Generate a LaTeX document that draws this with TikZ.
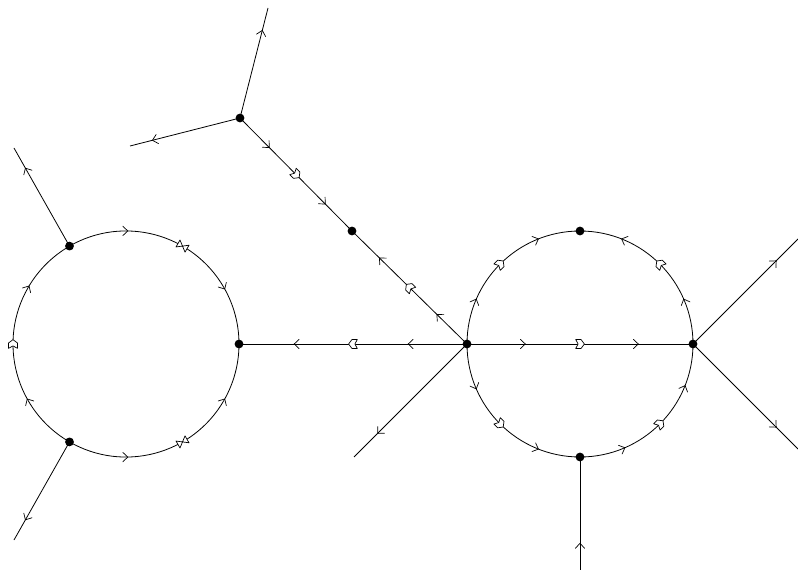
\documentclass[tikz,border=0pt]{standalone}
\usetikzlibrary{decorations.markings}
\tikzset{
  prop/.style={line width=0.8pt},
  barb/.style={line width=0.7pt,line cap=round},
  hol/.style={line width=0.7pt,fill=white,line join=round},
  tri/.style n args={3}{postaction={decorate},decoration={markings,
     mark=at position 0.25 with {#1},mark=at position 0.5 with {#2},mark=at position 0.75 with {#3}}},
  leg/.style={postaction={decorate},decoration={markings,mark=at position 0.78 with {#1}}},
  dot/.style={circle,fill=black,inner sep=0pt,minimum size=8.8pt}
}
\newcommand\barbpath{(-3.2pt,4.7pt) .. controls (-1pt,1.6pt) .. (1.8pt,0pt) .. controls (-1pt,-1.6pt) .. (-3.2pt,-4.7pt)}
\newcommand\holpath{(-4.3pt,4.5pt) -- (-1.9pt,0pt) -- (-4.3pt,-4.5pt) -- (1.0pt,-4.5pt) .. controls (3.4pt,-2.6pt) .. (4.4pt,0pt) .. controls (3.4pt,2.6pt) .. (1.0pt,4.5pt) -- cycle}
\newcommand\mA{\draw[barb] \barbpath;}
\newcommand\mR{\draw[barb,xscale=-1] \barbpath;}
\newcommand\mH{\draw[hol] \holpath;}
\newcommand\mHr{\draw[hol,xscale=-1] \holpath;}
\newcommand\mB{\draw[hol] (0pt,0pt) -- (-5.2pt,4pt) -- (-5.2pt,-4pt) -- cycle (0pt,0pt) -- (5.2pt,4pt) -- (5.2pt,-4pt) -- cycle;}
\begin{document}
\begin{tikzpicture}[x=1pt,y=-1pt]
\useasboundingbox (0,0) rectangle (798,572);
% vertices
\coordinate (A) at (240,118);
\coordinate (B) at (352,231);
\coordinate (C) at (239,344);
\coordinate (L1) at (69.5,246.1);
\coordinate (L2) at (69.5,441.9);
\coordinate (D) at (467,344);
\coordinate (E) at (693,344);
\coordinate (F) at (580,231);
\coordinate (G) at (580,457);
% free ends
\coordinate (e1) at (268,8);
\coordinate (e2) at (130,146);
\coordinate (e3) at (14,148);
\coordinate (e4) at (14,540);
\coordinate (e5) at (354,457);
\coordinate (e6) at (798,239);
\coordinate (e7) at (798,449);
\coordinate (e8) at (580,570);
% external legs
\draw[prop,leg={\mA}] (A) -- (e1);
\draw[prop,leg={\mA}] (A) -- (e2);
\draw[prop,leg={\mA}] (L1) -- (e3);
\draw[prop,leg={\mA}] (L2) -- (e4);
\draw[prop,leg={\mA}] (D) -- (e5);
\draw[prop,leg={\mA}] (E) -- (e6);
\draw[prop,leg={\mA}] (E) -- (e7);
\draw[prop,leg={\mR}] (G) -- (e8);
% internal lines
\draw[prop,tri={\mA}{\mH}{\mA}] (A) -- (B);
\draw[prop,tri={\mA}{\mH}{\mA}] (D) -- (B);
\draw[prop,tri={\mA}{\mH}{\mA}] (D) -- (C);
\draw[prop,tri={\mA}{\mH}{\mA}] (D) -- (E);
% left circle
\draw[prop,tri={\mA}{\mB}{\mA}] (L1) arc[start angle=120,end angle=0,radius=113pt];
\draw[prop,tri={\mA}{\mH}{\mA}] (L2) arc[start angle=240,end angle=120,radius=113pt];
\draw[prop,tri={\mA}{\mB}{\mA}] (L2) arc[start angle=240,end angle=360,radius=113pt];
% right circle
\draw[prop,tri={\mA}{\mH}{\mA}] (D) arc[start angle=180,end angle=90,radius=113pt];
\draw[prop,tri={\mA}{\mH}{\mA}] (E) arc[start angle=0,end angle=90,radius=113pt];
\draw[prop,tri={\mA}{\mH}{\mA}] (G) arc[start angle=-90,end angle=0,radius=113pt];
\draw[prop,tri={\mA}{\mH}{\mA}] (D) arc[start angle=180,end angle=270,radius=113pt];
% dots
\foreach \v in {A,B,C,L1,L2,D,E,F,G} \node[dot] (n\v) at (\v) {};
\end{tikzpicture}
\end{document}
